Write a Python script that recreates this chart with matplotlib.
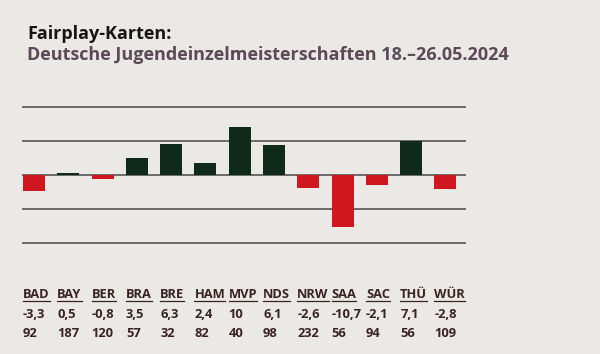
import matplotlib.pyplot as plt
import matplotlib.transforms as mtransforms

plt.rcParams['font.family'] = ['Open Sans', 'DejaVu Sans']

teams = ['BAD', 'BAY', 'BER', 'BRA', 'BRE', 'HAM', 'MVP', 'NDS', 'NRW', 'SAA', 'SAC', 'THÜ', 'WÜR']
scores = [-3.3, 0.5, -0.8, 3.5, 6.3, 2.4, 10, 6.1, -2.6, -10.7, -2.1, 7.1, -2.8]
cards = [92, 187, 120, 57, 32, 82, 40, 98, 232, 56, 94, 56, 109]
grid_levels = [-14, -7, 0, 7, 14]

bg = '#ebe9e6'
green = '#0f2a18'
red = '#d0161e'
table_col = '#3a2222'


def fmt(v):
    return ('%g' % v).replace('.', ',')


fig = plt.figure(figsize=(6, 3.54), dpi=100, facecolor=bg)
ax = fig.add_axes([22 / 600, (354 - 255) / 354, 444 / 600, 160 / 354])
ax.set_facecolor(bg)

for g in grid_levels:
    ax.axhline(g, color='#555555', lw=1.2, zorder=1)

colors = [green if v > 0 else red for v in scores]
x = list(range(len(teams)))
ax.bar(x, scores, width=0.64, color=colors, zorder=2)

ax.set_xlim(-0.35, 12.6)
ax.set_ylim(-16.5, 16.5)
ax.axis('off')

fig.text(27 / 600, 1 - 34 / 354, 'Fairplay-Karten:', fontsize=13, fontweight='bold',
         color='#151515', va='center', ha='left')
fig.text(27 / 600, 1 - 55 / 354, 'Deutsche Jugendeinzelmeisterschaften 18.\u201326.05.2024',
         fontsize=13, fontweight='bold', color='#5b4a57', va='center', ha='left')

trans = mtransforms.blended_transform_factory(ax.transData, fig.transFigure)
labels = []
for i, t in enumerate(teams):
    lab = ax.text(i - 0.32, 1 - 298 / 354, t, transform=trans, fontsize=9.3,
                  fontweight='bold', color=table_col, ha='left', va='baseline')
    labels.append(lab)
    ax.text(i - 0.32, 1 - 318 / 354, fmt(scores[i]), transform=trans, fontsize=9.3,
            fontweight='bold', color=table_col, ha='left', va='baseline')
    ax.text(i - 0.32, 1 - 337 / 354, str(cards[i]), transform=trans, fontsize=9.3,
            fontweight='bold', color=table_col, ha='left', va='baseline')

# underline the team abbreviations
fig.canvas.draw()
r = fig.canvas.get_renderer()
for lab in labels:
    bb = lab.get_window_extent(r).transformed(fig.transFigure.inverted())
    y = 1 - 300.5 / 354
    fig.add_artist(plt.Line2D([bb.x0, bb.x1], [y, y], color=table_col, lw=0.9,
                              transform=fig.transFigure))

fig.savefig('out.png', dpi=100, facecolor=bg)
